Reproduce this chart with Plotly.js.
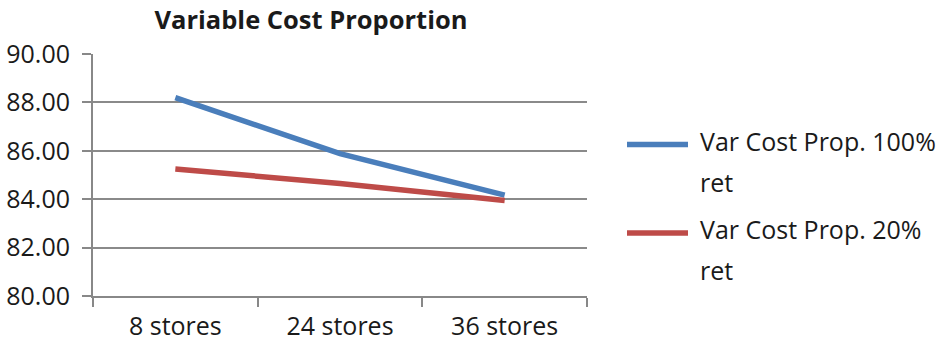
<!DOCTYPE html>
<html>
<head>
<meta charset="utf-8">
<script src="https://cdn.plot.ly/plotly-3.0.1.min.js"></script>
<style>html,body{margin:0;padding:0;background:#fff;}#chart{width:941px;height:341px;}</style>
</head>
<body>
<div id="chart"></div>
<script>
var categories = ["8 stores", "24 stores", "36 stores"];
var seriesNames = ["Var Cost Prop. 100% ret", "Var Cost Prop. 20% ret"];
var legendLines = [["Var Cost Prop. 100%", "ret"], ["Var Cost Prop. 20%", "ret"]];
var var100 = [88.2, 85.88, 84.17];
var var20 = [85.25, 84.65, 83.95];
var yTicks = [80, 82, 84, 86, 88, 90];
var colors = ["#4a7ebb", "#be4b48"];
var titleText = "Variable Cost Proportion";

var FONT = "Open Sans, sans-serif";
var FS = 25;

var traces = [
  {x: categories, y: var100, name: seriesNames[0], type: "scatter", mode: "lines",
   line: {color: colors[0], width: 5.5}, showlegend: false},
  {x: categories, y: var20, name: seriesNames[1], type: "scatter", mode: "lines",
   line: {color: colors[1], width: 5.5}, showlegend: false}
];

var plotL = 93, plotR = 587, plotT = 54, plotB = 296;
var pw = plotR - plotL, ph = plotB - plotT;
function px2x(p){ return (p - plotL) / pw; }
function py2y(p){ return (plotB - p) / ph; }

var shapes = [], annotations = [];
var entryY = [144.5, 233];
for (var i = 0; i < legendLines.length; i++) {
  shapes.push({type: "line", xref: "paper", yref: "paper",
    x0: px2x(627), x1: px2x(688), y0: py2y(entryY[i]), y1: py2y(entryY[i]),
    line: {color: colors[i], width: 5.5}});
  for (var j = 0; j < legendLines[i].length; j++) {
    annotations.push({xref: "paper", yref: "paper", x: px2x(698), y: py2y(entryY[i] - 4 + j * 41),
      xanchor: "left", yanchor: "middle", showarrow: false, text: legendLines[i][j],
      font: {family: FONT, size: FS, color: "#1a1a1a"}});
  }
}

var layout = {
  width: 941, height: 341,
  margin: {l: plotL, r: 941 - plotR, t: plotT, b: 341 - plotB, pad: 0},
  paper_bgcolor: "#fff", plot_bgcolor: "#fff",
  showlegend: false,
  title: {text: "<b>" + titleText + "</b>", xref: "container", yref: "container",
    x: 311 / 941, xanchor: "center", y: 1 - 20 / 341, yanchor: "middle",
    font: {family: FONT, size: 25.5, color: "#1a1a1a"}},
  xaxis: {type: "category", range: [-0.5, 2.5], showline: true, linecolor: "#888", linewidth: 2,
    ticks: "outside", tickson: "boundaries", ticklen: 9, tickcolor: "#888", tickwidth: 2,
    ticklabelstandoff: 7,
    showgrid: false, zeroline: false,
    tickfont: {family: FONT, size: FS, color: "#1a1a1a"}},
  yaxis: {range: [80, 90], tickvals: yTicks, tickformat: ".2f", showline: true, linecolor: "#888", linewidth: 2,
    ticks: "outside", ticklen: 9, tickcolor: "#888", tickwidth: 2,
    ticklabelstandoff: 7,
    showgrid: true, gridcolor: "#8a8a8a", gridwidth: 2, zeroline: false,
    tickfont: {family: FONT, size: FS, color: "#1a1a1a"}},
  shapes: shapes,
  annotations: annotations
};

Plotly.newPlot("chart", traces, layout, {displayModeBar: false, staticPlot: true});
</script>
</body>
</html>
